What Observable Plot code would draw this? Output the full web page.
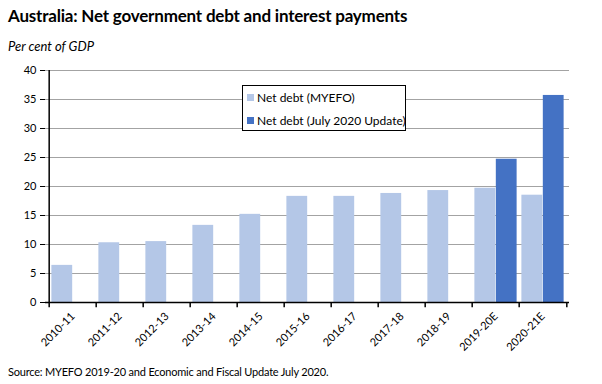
<!DOCTYPE html>
<html><head><meta charset="utf-8">
<script src="https://cdn.jsdelivr.net/npm/d3@7"></script>
<script src="https://cdn.jsdelivr.net/npm/@observablehq/plot@0.6"></script>
<style>
body{margin:0;background:#fff;font-family:Lato,"Open Sans",sans-serif;}
#wrap{position:relative;width:602px;height:384px;overflow:hidden;}
#title{position:absolute;left:8px;top:5px;font-weight:bold;font-size:17px;color:#000;white-space:nowrap;letter-spacing:-0.2px;}
#sub{position:absolute;left:8px;top:38px;font-style:italic;font-size:13px;color:#000;white-space:nowrap;}
#src{position:absolute;left:8px;top:365px;font-size:11px;color:#000;white-space:nowrap;letter-spacing:-0.2px;}
#chart{position:absolute;left:0;top:55px;}
#legend{position:absolute;left:242px;top:85px;width:164px;height:46px;border:1px solid #000;background:#fff;font-size:12px;box-sizing:border-box;}
.li{position:absolute;left:4px;white-space:nowrap;display:flex;align-items:center;}
.sw{width:7px;height:7px;margin-right:3px;display:inline-block;}
</style></head>
<body>
<div id="wrap">
<div id="title"></div>
<div id="sub"></div>
<div id="chart"></div>
<div id="legend"></div>
<div id="src"></div>
</div>
<script>
const titleText = "Australia: Net government debt and interest payments";
const subtitleText = "Per cent of GDP";
const sourceText = "Source: MYEFO 2019-20 and Economic and Fiscal Update July 2020.";
const categories = ["2010-11","2011-12","2012-13","2013-14","2014-15","2015-16","2016-17","2017-18","2018-19","2019-20E","2020-21E"];
const seriesNames = ["Net debt (MYEFO)","Net debt (July 2020 Update)"];
const myefo = [6.4, 10.3, 10.5, 13.3, 15.2, 18.3, 18.3, 18.8, 19.3, 19.7, 18.5];
const july2020 = [null, null, null, null, null, null, null, null, null, 24.7, 35.7];
const colors = ["#b4c7e7", "#4472c4"];
const yTicks = [0,5,10,15,20,25,30,35,40];

document.getElementById("title").textContent = titleText;
document.getElementById("sub").textContent = subtitleText;
document.getElementById("src").textContent = sourceText;

const leg = document.getElementById("legend");
seriesNames.forEach((n,i)=>{
  const d = document.createElement("div");
  d.className = "li";
  d.style.top = (i===0 ? 4 : 27) + "px";
  d.innerHTML = `<span class="sw" style="background:${colors[i]}"></span><span></span>`;
  d.lastChild.textContent = n;
  leg.appendChild(d);
});

const rows = [];
categories.forEach((c,i)=>{
  rows.push({cat:c, series:seriesNames[0], v:myefo[i]});
  if (july2020[i] != null) rows.push({cat:c, series:seriesNames[1], v:july2020[i]});
});

const W = 602, H = 300, mL = 45, mR = 33, mT = 15, mB = 53;
const bw = (W - mL - mR) / categories.length;
const pad = bw * 0.05;
const half = bw / 2;

const chart = Plot.plot({
  width: W, height: H,
  marginLeft: mL, marginRight: mR, marginTop: mT, marginBottom: mB,
  style: {fontFamily: "Lato, sans-serif", fontSize: "11px", color: "#000", background: "transparent"},
  x: {domain: categories, padding: 0, label: null},
  y: {domain: [0, 40], label: null},
  marks: [
    Plot.gridY(yTicks.filter(d=>d>0), {stroke: "#a3a3a3", strokeOpacity: 1, strokeWidth: 1}),
    Plot.barY(rows.filter(d=>d.series===seriesNames[0]), {x: "cat", y: "v", fill: colors[0], insetLeft: pad, insetRight: half}),
    Plot.barY(rows.filter(d=>d.series===seriesNames[1]), {x: "cat", y: "v", fill: colors[1], insetLeft: half, insetRight: pad}),
    Plot.axisY({ticks: yTicks, tickSize: 5, tickPadding: 4, label: null, stroke: "#000"}),
    Plot.axisX({tickSize: 0, tickRotate: -45, tickPadding: 12, label: null}),
    Plot.ruleX([categories[0]], {x: d=>d, dx: -half, y1: 0, y2: 40, stroke: "#000", strokeWidth: 1.5}),
    Plot.ruleY([0], {stroke: "#000", strokeWidth: 1.5}),
    Plot.ruleX(categories, {x: d=>d, dx: -half, y1: 0, y2: -0.9, stroke: "#000", strokeWidth: 1.5}),
    Plot.ruleX([categories[categories.length-1]], {x: d=>d, dx: half, y1: 0, y2: -0.9, stroke: "#000", strokeWidth: 1.5})
  ]
});
document.getElementById("chart").appendChild(chart);
</script>
</body></html>
